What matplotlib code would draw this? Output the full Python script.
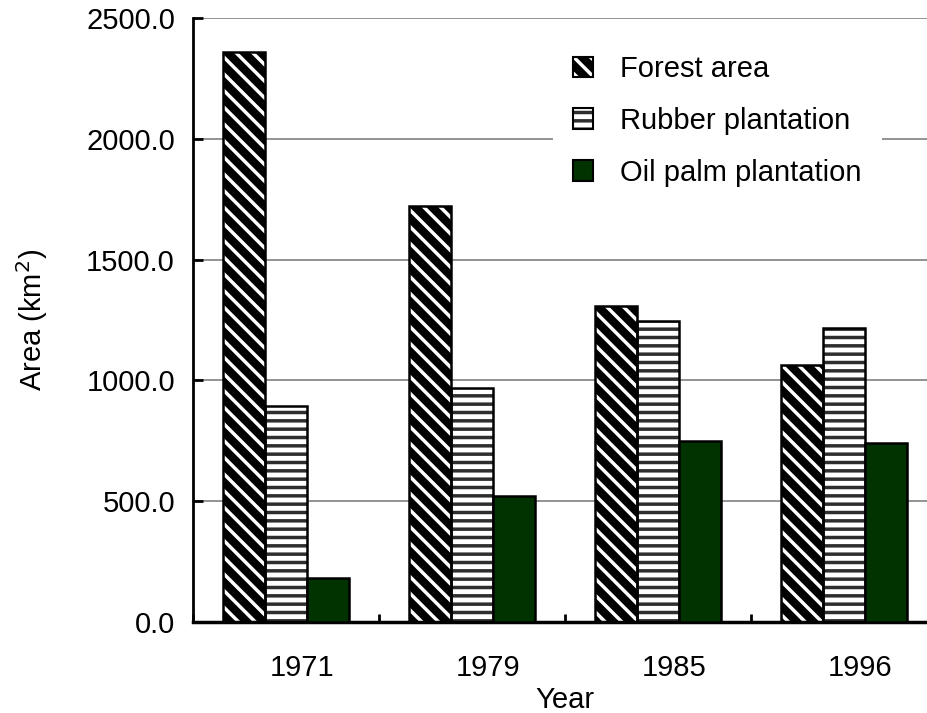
import numpy as np
import matplotlib.pyplot as plt
from matplotlib.patches import Patch
from matplotlib.transforms import ScaledTranslation

years = ['1971', '1979', '1985', '1996']
forest = [2360, 1722, 1308, 1063]
rubber = [895, 969, 1246, 1218]
oil_palm = [182, 521, 750, 742]

plt.rcParams['font.family'] = ['Liberation Sans', 'DejaVu Sans']
plt.rcParams['hatch.linewidth'] = 2.5
fs = 21

fig = plt.figure(figsize=(9.28, 7.13), dpi=100)
ax = fig.add_axes([0.208, 0.1276, 0.802, 0.847])

x = np.arange(len(years))
w = 0.226


def hatched_bars(pos, vals, face, hcol, hatch):
    b = ax.bar(pos, vals, w, color=face, edgecolor=hcol, hatch=hatch, linewidth=0, zorder=2)
    for p in b:
        if hasattr(p, 'set_hatch_linewidth'):
            p.set_hatch_linewidth(2.5)
    ax.bar(pos, vals, w, facecolor='none', edgecolor='black', linewidth=1.8, zorder=3)


hatched_bars(x - w, forest, 'black', 'white', '\\\\')
hatched_bars(x, rubber, 'white', '#2e2e2e', '--')
ax.bar(x + w, oil_palm, w, color='#003300', edgecolor='black', linewidth=1.8, zorder=3)

ax.set_ylim(0, 2500)
ax.set_xlim(-0.5, 3.5)
ax.set_yticks(np.arange(0, 2501, 500))
ax.set_yticklabels([f'{v:.1f}' for v in np.arange(0, 2501, 500)], fontsize=fs)
ax.yaxis.grid(True, color='#808080', linewidth=1.2, zorder=0)
ax.set_axisbelow(True)
ax.tick_params(axis='y', direction='in', length=7, width=2, pad=13)

ax.set_xticks(np.arange(-0.5, 3.6, 1))
ax.set_xticklabels([])
ax.set_xticks(x, minor=True)
ax.set_xticklabels(years, minor=True, fontsize=fs)
ax.tick_params(axis='x', which='major', direction='in', length=6, width=2)
ax.tick_params(axis='x', which='minor', length=0, pad=23)
shift = ScaledTranslation(16 / 100, 0, fig.dpi_scale_trans)
for lab in ax.get_xticklabels(minor=True):
    lab.set_transform(lab.get_transform() + shift)

for s in ['top', 'right']:
    ax.spines[s].set_visible(False)
ax.spines['left'].set_linewidth(2)
ax.spines['bottom'].set_linewidth(2.5)

ax.set_ylabel('Area (km$^2$)', fontsize=fs, labelpad=26)
ax.set_xlabel('Year', fontsize=fs, labelpad=3)

handles = [
    (Patch(facecolor='black', edgecolor='white', hatch='\\\\', linewidth=0),
     Patch(facecolor='none', edgecolor='black', linewidth=1.5)),
    (Patch(facecolor='white', edgecolor='#2e2e2e', hatch='--', linewidth=0),
     Patch(facecolor='none', edgecolor='black', linewidth=1.5)),
    Patch(facecolor='#003300', edgecolor='black', linewidth=1.5),
]
leg = ax.legend(handles, ['Forest area', 'Rubber plantation', 'Oil palm plantation'],
                loc='upper left', bbox_to_anchor=(0.4635, 0.997), fontsize=fs,
                frameon=True, facecolor='white', edgecolor='none', framealpha=1,
                fancybox=False, handlelength=0.7, handleheight=0.7,
                handletextpad=0.9, labelspacing=0.82, borderpad=0.7)
leg.set_zorder(5)

fig.savefig('out.png', dpi=100)
